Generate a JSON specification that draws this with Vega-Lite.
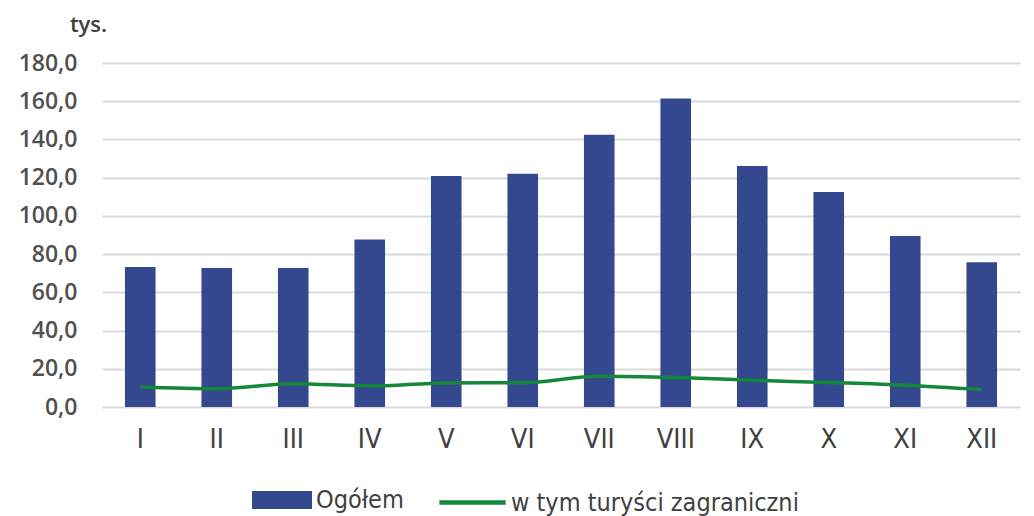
{
  "$schema": "https://vega.github.io/schema/vega-lite/v6.json",
  "autosize": {"type": "none"},
  "width": 918,
  "height": 344,
  "padding": {"left": 102, "top": 63, "right": 14, "bottom": 109},
  "background": "white",
  "config": {
    "view": {"stroke": null},
    "axisY": {
      "values": [0, 20, 40, 60, 80, 100, 120, 140, 160, 180],
      "labelExpr": "replace(format(datum.value, '.1f'), '.', ',')",
      "labelOverlap": false,
      "domain": false, "ticks": false, "gridColor": "#dadada", "gridWidth": 2,
      "labelPadding": 25, "labelFontSize": 23, "labelFontWeight": 600,
      "labelColor": "#505050", "labelFont": "Open Sans",
      "titleAngle": 0, "titleAlign": "center", "titleBaseline": "alphabetic",
      "titleX": -14, "titleY": -32, "titleFontSize": 22, "titleFontWeight": 600,
      "titleColor": "#404040", "titleFont": "Open Sans"
    }
  },
  "data": {
    "values": [
      {"m": "I", "ogolem": 73.3, "zagr": 10.5},
      {"m": "II", "ogolem": 72.7, "zagr": 9.6},
      {"m": "III", "ogolem": 72.7, "zagr": 12.2},
      {"m": "IV", "ogolem": 87.7, "zagr": 11.0},
      {"m": "V", "ogolem": 120.9, "zagr": 12.6},
      {"m": "VI", "ogolem": 122.1, "zagr": 12.7},
      {"m": "VII", "ogolem": 142.5, "zagr": 16.1},
      {"m": "VIII", "ogolem": 161.4, "zagr": 15.4},
      {"m": "IX", "ogolem": 126.1, "zagr": 14.0},
      {"m": "X", "ogolem": 112.5, "zagr": 12.8},
      {"m": "XI", "ogolem": 89.5, "zagr": 11.4},
      {"m": "XII", "ogolem": 75.7, "zagr": 9.1}
    ]
  },
  "encoding": {
    "x": {
      "field": "m", "type": "nominal", "sort": null,
      "scale": {"paddingInner": 0.6, "paddingOuter": 0.3},
      "axis": {
        "title": null, "labelAngle": 0, "domain": false, "ticks": false,
        "labelPadding": 19, "labelFontSize": 27, "labelColor": "#404040",
        "labelFont": "Liberation Sans Narrow, DejaVu Sans Condensed, sans-serif"
      }
    }
  },
  "layer": [
    {
      "mark": {"type": "bar"},
      "encoding": {
        "y": {
          "field": "ogolem", "type": "quantitative",
          "scale": {"domain": [0, 180]},
          "axis": {"title": "tys."}
        },
        "color": {
          "datum": "Ogółem",
          "scale": {"range": ["#33488f"]},
          "legend": {
            "title": null, "orient": "none", "legendX": 150, "legendY": 407,
            "symbolType": "M-1,-0.3H1V0.3H-1Z", "symbolSize": 3600, "symbolStrokeWidth": 0,
            "labelFontSize": 25, "labelColor": "#404040", "labelOffset": 4, "labelLimit": 400,
            "labelFont": "Liberation Sans Narrow, DejaVu Sans Condensed, sans-serif"
          }
        }
      }
    },
    {
      "mark": {"type": "line", "strokeWidth": 3.5, "interpolate": "monotone"},
      "encoding": {
        "y": {"field": "zagr", "type": "quantitative", "axis": {"title": "tys."}},
        "stroke": {
          "datum": "w tym turyści zagraniczni",
          "scale": {"range": ["#14873a"]},
          "legend": {
            "title": null, "orient": "none", "legendX": 335, "legendY": 404,
            "symbolType": "stroke", "symbolSize": 4400, "symbolStrokeWidth": 4.5,
            "labelFontSize": 25, "labelColor": "#404040", "labelOffset": 3, "labelLimit": 500,
            "labelFont": "Liberation Sans Narrow, DejaVu Sans Condensed, sans-serif"
          }
        }
      }
    }
  ]
}
